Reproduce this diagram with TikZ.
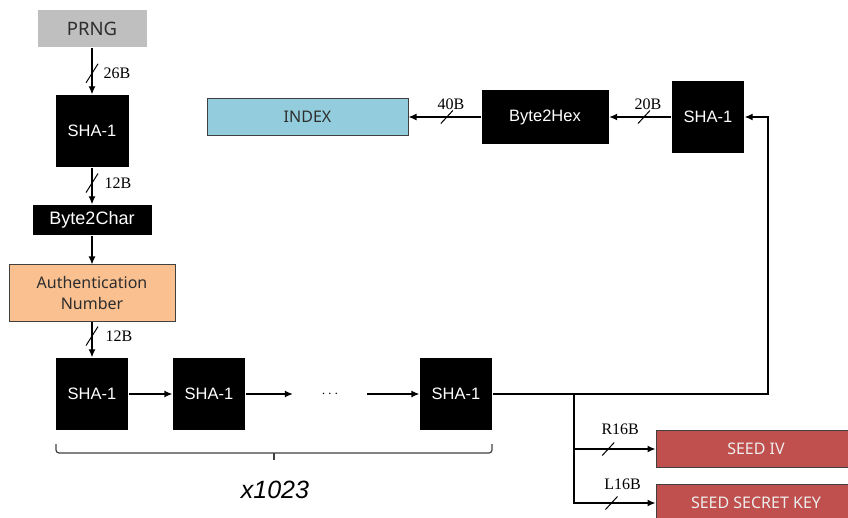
\documentclass[tikz,border=0pt]{standalone}
\usepackage{fontspec}
\setmainfont{Liberation Sans}
\newfontfamily\boxfont{Noto Sans}
\newfontfamily\lblfont{Liberation Serif}
\usetikzlibrary{arrows.meta}

\definecolor{prnggray}{RGB}{191,191,191}
\definecolor{authorange}{RGB}{250,192,144}
\definecolor{indexblue}{RGB}{147,205,221}
\definecolor{seedred}{RGB}{192,80,77}
\definecolor{edgegray}{RGB}{64,64,64}
\definecolor{txtgray}{RGB}{45,45,45}

\tikzset{
    blackbox/.style={fill=black, text=white, inner sep=0pt, font=\fontsize{16.5}{20}\selectfont},
    colorbox/.style={draw=edgegray, line width=1pt, inner sep=0pt, align=center, font=\boxfont\fontsize{16}{21}\selectfont},
    bits/.style={inner sep=1pt, font=\lblfont\fontsize{16}{18}\selectfont},
    vslash/.pic={\draw[-, line width=1pt] (-6,9.5) -- (6,-9.5);},
    hslash/.pic={\draw[-, line width=1pt] (-6,6.5) -- (6,-6.5);}
}

\begin{document}
\begin{tikzpicture}[x=1pt, y=-1pt, >={Latex[length=8pt,width=7pt]}, line width=1.3pt]
    \useasboundingbox (0,0) rectangle (848,518);

    \node[fill=prnggray, text=txtgray, minimum width=109pt, minimum height=37pt, inner sep=0pt, font=\boxfont\fontsize{18.5}{20}\selectfont] (prng) at (92,28.5) {PRNG};
    \node[blackbox, minimum width=73pt, minimum height=72pt] (sha0) at (92,131) {SHA-1};
    \node[blackbox, minimum width=119pt, minimum height=30pt, font=\fontsize{18}{20}\selectfont] (b2c) at (92,220) {Byte2Char};
    \node[colorbox, fill=authorange, text=txtgray, minimum width=166pt, minimum height=57pt] (auth) at (92,293.5) {Authentication\\Number};
    \node[blackbox, minimum width=72pt, minimum height=72pt] (sha1) at (92,394) {SHA-1};
    \node[blackbox, minimum width=72pt, minimum height=72pt] (sha2) at (209,394) {SHA-1};
    \node[minimum width=73pt, inner sep=0pt, font=\fontsize{15}{16}\selectfont] (dots) at (330,394) {$\cdots$};
    \node[blackbox, minimum width=72pt, minimum height=72pt] (sha3) at (456,394) {SHA-1};
    \node[blackbox, minimum width=72pt, minimum height=72pt] (shaT) at (708,117) {SHA-1};
    \node[blackbox, minimum width=127pt, minimum height=54pt] (b2h) at (545,117) {Byte2Hex};
    \node[colorbox, fill=indexblue, text=txtgray, minimum width=201pt, minimum height=37pt] (index) at (307.5,117) {INDEX};
    \node[colorbox, fill=seedred, text=white!93!black, minimum width=200pt, minimum height=37pt] (seediv) at (756,449) {SEED IV};
    \node[colorbox, fill=seedred, text=white!93!black, minimum width=200pt, minimum height=37pt] (seedkey) at (756,503) {SEED SECRET KEY};
    \node[font=\itshape\fontsize{25}{28}\selectfont] (times) at (275,490) {x1023};
    \coordinate (split) at (574,394);
    \coordinate (turn) at (768,394);

    \draw[->] (prng) -- pic[pos=.55]{vslash} node[bits, pos=.55, right=10pt] {26B} (sha0);
    \draw[->] (sha0) -- pic[pos=.42]{vslash} node[bits, pos=.42, right=11pt] {12B} (b2c);
    \path[->] (b2c) edge (auth);
    \draw[->] (auth) -- pic[pos=.39]{vslash} node[bits, pos=.39, right=12pt] {12B} (sha1);
    \path[->] (sha1) edge (sha2);
    \path[->] (sha2) edge (dots);
    \path[->] (dots) edge (sha3);
    \draw[->] (sha3) -- (turn) |- (shaT);
    \draw[->] (shaT) -- pic[pos=.44]{hslash} node[bits, pos=.44, above=6pt, xshift=4pt] {20B} (b2h);
    \draw[->] (b2h) -- pic[pos=.47]{hslash} node[bits, pos=.47, above=6pt, xshift=4pt] {40B} (index);
    \draw[->] (split) |- pic[pos=.71]{hslash} node[bits, pos=.71, above=13pt, xshift=12pt] {R16B} (seediv);
    \draw[->] (split) |- pic[pos=.73]{hslash} node[bits, pos=.73, above=12pt, xshift=11pt] {L16B} (seedkey);
    \draw[edgegray, line width=1.2pt, rounded corners=3pt] (56,444) |- (492,453) -- (492,444);
    \draw[edgegray, line width=1.2pt] (274,453) -- (274,460);
\end{tikzpicture}
\end{document}
